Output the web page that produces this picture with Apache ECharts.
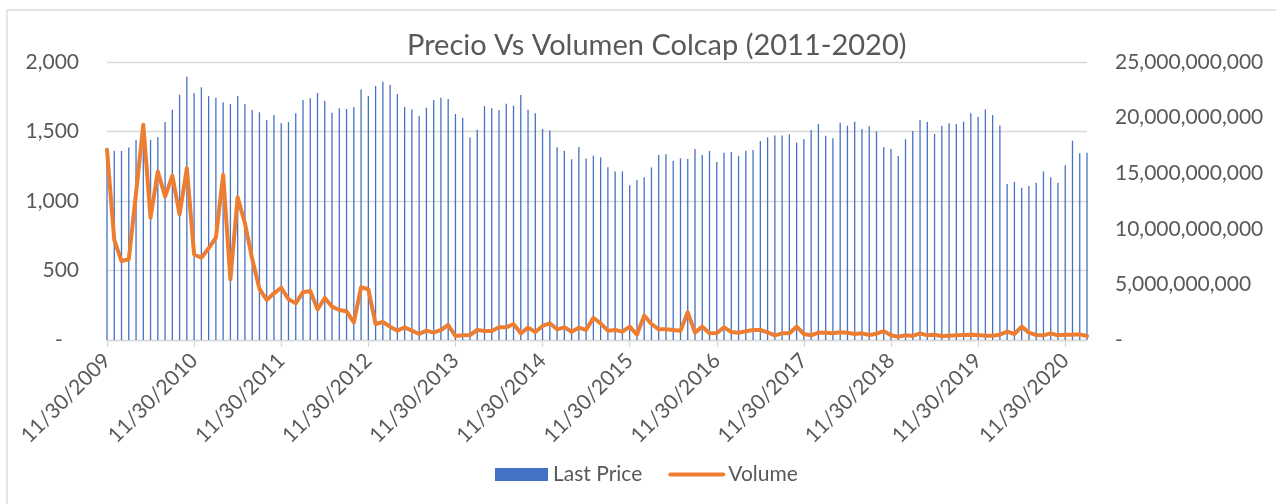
<!DOCTYPE html>
<html>
<head>
<meta charset="utf-8">
<title>Precio Vs Volumen Colcap</title>
<script src="https://cdn.jsdelivr.net/npm/echarts@6/dist/echarts.min.js"></script>
<style>
  html, body { margin: 0; padding: 0; background: #fff; }
  #chart { width: 1276px; height: 504px; }
</style>
</head>
<body>
<div id="chart"></div>
<script>
// monthly COLCAP closing level, first point is 11/30/2009
const lastPrice = [
  1360, 1362, 1360, 1384, 1439, 1470, 1439, 1460, 1568, 1657, 1765, 1894,
  1775, 1818, 1755, 1743, 1710, 1698, 1755, 1698, 1655, 1638, 1583, 1619,
  1559, 1568, 1631, 1727, 1739, 1777, 1719, 1635, 1667, 1662, 1676, 1803,
  1755, 1827, 1858, 1837, 1770, 1676, 1659, 1611, 1671, 1727, 1743, 1734,
  1626, 1599, 1456, 1513, 1683, 1667, 1655, 1700, 1686, 1763, 1657, 1631,
  1518, 1508, 1386, 1362, 1300, 1388, 1305, 1326, 1314, 1242, 1213, 1213,
  1113, 1151, 1170, 1242, 1331, 1336, 1290, 1307, 1302, 1374, 1331, 1360,
  1281, 1348, 1352, 1324, 1362, 1367, 1432, 1458, 1472, 1472, 1480, 1420,
  1444, 1511, 1554, 1470, 1451, 1563, 1542, 1571, 1518, 1537, 1501, 1386,
  1374, 1324, 1444, 1504, 1583, 1568, 1482, 1542, 1559, 1554, 1571, 1631,
  1607, 1659, 1619, 1544, 1122, 1139, 1096, 1108, 1132, 1213, 1170, 1132,
  1257, 1434, 1343, 1348
];

// monthly traded volume, in billions
const volumeBn = [
  17.1, 9.0, 7.1, 7.26, 13.2, 19.35, 11.0, 15.15, 12.9, 14.76, 11.3, 15.45,
  7.7, 7.4, 8.25, 9.2, 14.85, 5.46, 12.84, 10.5, 7.3, 4.6, 3.6, 4.2,
  4.7, 3.66, 3.3, 4.3, 4.4, 2.76, 3.78, 3.0, 2.7, 2.58, 1.59, 4.74,
  4.56, 1.44, 1.62, 1.2, 0.84, 1.14, 0.84, 0.54, 0.84, 0.66, 0.9, 1.35,
  0.36, 0.42, 0.45, 0.9, 0.81, 0.81, 1.14, 1.14, 1.44, 0.6, 1.11, 0.72,
  1.26, 1.5, 0.96, 1.14, 0.75, 1.11, 0.9, 2.0, 1.5, 0.84, 0.9, 0.75,
  1.2, 0.48, 2.19, 1.44, 0.96, 0.96, 0.9, 0.84, 2.49, 0.66, 1.2, 0.6,
  0.63, 1.14, 0.72, 0.66, 0.78, 0.9, 0.9, 0.69, 0.42, 0.6, 0.6, 1.2,
  0.54, 0.42, 0.66, 0.66, 0.6, 0.69, 0.66, 0.54, 0.6, 0.45, 0.57, 0.8,
  0.42, 0.3, 0.42, 0.36, 0.6, 0.42, 0.48, 0.36, 0.39, 0.42, 0.45, 0.48,
  0.45, 0.39, 0.39, 0.48, 0.75, 0.54, 1.2, 0.66, 0.45, 0.42, 0.6, 0.42,
  0.48, 0.48, 0.51, 0.36
];

const priceTicks = [0, 500, 1000, 1500, 2000];
const volumeTicksBn = [0, 5, 10, 15, 20, 25];

// month-end dates, 11/30/2009 onwards
const months = [];
for (let i = 0; i < lastPrice.length; i++) {
  const d = new Date(2009, 10 + i + 1, 0);
  months.push((d.getMonth() + 1) + '/' + d.getDate() + '/' + d.getFullYear());
}

const textColor = '#595959';
const gridColor = '#d9d9d9';
const font = 'Lato';

const chart = echarts.init(document.getElementById('chart'), null, { renderer: 'canvas' });

const fmt = v => v.toLocaleString('en-US');

chart.setOption({
  backgroundColor: '#fff',
  animation: false,
  title: {
    text: 'Precio Vs Volumen Colcap (2011-2020)',
    left: 402,
    top: 26,
    textStyle: { fontFamily: font, fontSize: 29, fontWeight: 'normal', color: textColor }
  },
  legend: {
    left: 490,
    top: 459,
    itemGap: 26,
    itemWidth: 53,
    itemHeight: 13,
    textStyle: { fontFamily: font, fontSize: 21, color: textColor },
    data: [
      { name: 'Last Price', icon: 'rect' },
      {
        name: 'Volume',
        itemStyle: { opacity: 0 },
        lineStyle: { color: '#ED7D31', width: 4, cap: 'round' }
      }
    ]
  },
  graphic: [{
    type: 'rect',
    shape: { x: 7, y: 10, width: 1400, height: 700 },
    style: { fill: 'none', stroke: gridColor, lineWidth: 1.3 },
    silent: true
  }],
  grid: { left: 107, right: 189, top: 62, bottom: 164 },
  xAxis: {
    type: 'category',
    data: months,
    boundaryGap: false,
    axisLine: { lineStyle: { color: gridColor, width: 1.3 } },
    axisTick: { show: true, interval: 11, length: 7, lineStyle: { color: gridColor, width: 1.3 } },
    axisLabel: {
      interval: 11,
      rotate: 45,
      margin: 17,
      fontFamily: font,
      fontSize: 21,
      color: textColor
    },
    splitLine: { show: false }
  },
  yAxis: [
    {
      type: 'value',
      min: priceTicks[0],
      max: priceTicks[priceTicks.length - 1],
      interval: priceTicks[1] - priceTicks[0],
      axisLine: { show: false },
      axisTick: { show: false },
      axisLabel: {
        margin: 28,
        fontFamily: font,
        fontSize: 21,
        color: textColor,
        formatter: v => (v === 0 ? '-   ' : fmt(v))
      },
      splitLine: { lineStyle: { color: gridColor, width: 1.3 } }
    },
    {
      type: 'value',
      min: volumeTicksBn[0],
      max: volumeTicksBn[volumeTicksBn.length - 1],
      interval: volumeTicksBn[1] - volumeTicksBn[0],
      axisLine: { show: false },
      axisTick: { show: false },
      axisLabel: {
        margin: 28,
        fontFamily: font,
        fontSize: 21,
        color: textColor,
        formatter: v => (v === 0 ? '-' : fmt(v * 1e9))
      },
      splitLine: { show: false }
    }
  ],
  series: [
    {
      name: 'Last Price',
      type: 'bar',
      data: lastPrice,
      barWidth: 1.3,
      itemStyle: { color: '#4472C4' },
      z: 1
    },
    {
      name: 'Volume',
      type: 'line',
      yAxisIndex: 1,
      data: volumeBn,
      symbol: 'none',
      clip: false,
      lineStyle: { color: '#ED7D31', width: 4, join: 'round', cap: 'round' },
      itemStyle: { color: '#ED7D31' },
      z: 3
    }
  ]
});

window.addEventListener('resize', () => chart.resize());
</script>
</body>
</html>
